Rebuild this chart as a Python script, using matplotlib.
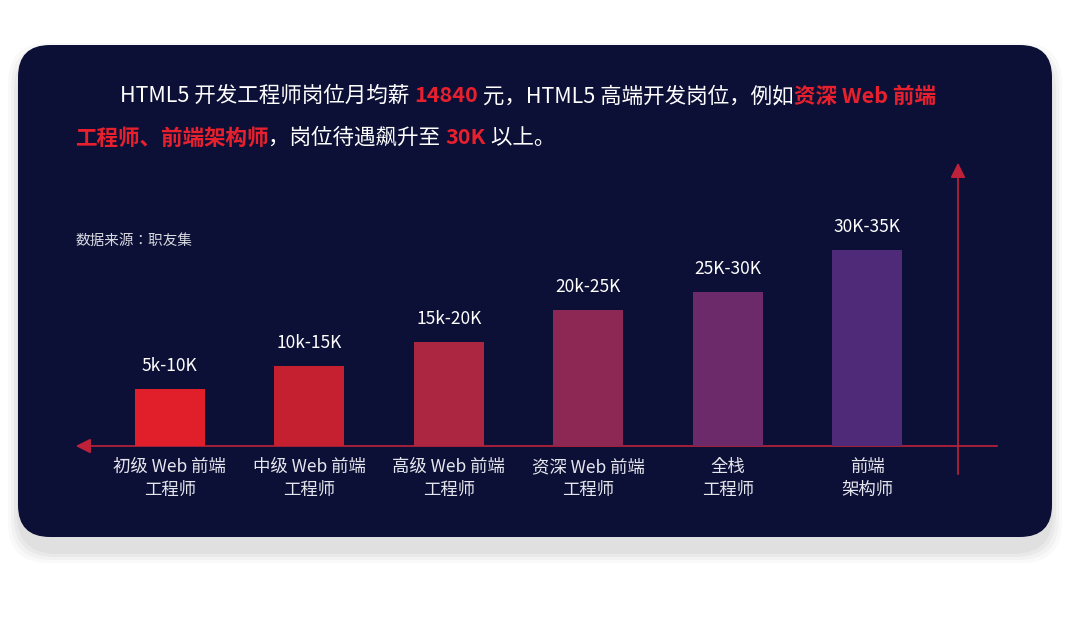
import matplotlib
matplotlib.use("Agg")
import matplotlib.pyplot as plt
from matplotlib import font_manager as fm
from matplotlib.patches import FancyBboxPatch, FancyArrowPatch

cjk = [f.name for f in fm.fontManager.ttflist if "CJK" in f.name]
fams = []
for n in ["Noto Sans CJK SC", "Noto Sans CJK JP", "Noto Sans CJK TC", "Noto Sans CJK KR"] + cjk:
    if n in cjk and n not in fams:
        fams.append(n)
if not fams:
    for p in fm.findSystemFonts():
        if "CJK" in p or "cjk" in p.lower():
            fm.fontManager.addfont(p)
    fams = sorted({f.name for f in fm.fontManager.ttflist if "CJK" in f.name})
plt.rcParams["font.family"] = ["sans-serif"]
plt.rcParams["font.sans-serif"] = fams + ["DejaVu Sans"]

categories = ["初级 Web 前端\n工程师", "中级 Web 前端\n工程师", "高级 Web 前端\n工程师",
              "资深 Web 前端\n工程师", "全栈\n工程师", "前端\n架构师"]
value_labels = ["5k-10K", "10k-15K", "15k-20K", "20k-25K", "25K-30K", "30K-35K"]
values = [57, 80, 104, 136, 154, 196]   # relative bar heights
colors = ["#e01f2a", "#c5202f", "#ac2541", "#8c2853", "#6c2a6b", "#4f2a79"]

W, H = 1080, 619
fig = plt.figure(figsize=(W / 100, H / 100), dpi=100)
fig.patch.set_facecolor("white")
bg = fig.add_axes([0, 0, 1, 1])
bg.set_xlim(0, W); bg.set_ylim(H, 0); bg.axis("off")

for i, a in enumerate([0.03, 0.04, 0.05, 0.06]):
    g = 14 - i * 3
    bg.add_patch(FancyBboxPatch((18 - g + 4, 45 - g + 12), 1034 + 2 * g - 8, 492 + 2 * g,
                                boxstyle="round,pad=0,rounding_size=40",
                                fc="#555555", ec="none", alpha=a))
bg.add_patch(FancyBboxPatch((18, 45), 1034, 492, boxstyle="round,pad=0,rounding_size=32",
                            fc="#0c1036", ec="none"))

bg.add_patch(FancyArrowPatch((1000, 446), (73, 446), arrowstyle="-|>,head_length=6,head_width=3",
                             color="#c0213a", lw=1.2, mutation_scale=1.5))
bg.add_patch(FancyArrowPatch((958, 477), (958, 160), arrowstyle="-|>,head_length=6,head_width=3",
                             color="#c0213a", lw=1.2, mutation_scale=1.5))

fig.canvas.draw()
r = fig.canvas.get_renderer()
RED = "#e8202e"
def line(parts, x, y):
    for txt, red in parts:
        t = bg.text(x, y, txt, color=RED if red else "white", fontsize=15.5,
                    fontweight="bold" if red else "normal", va="center", ha="left")
        bb = t.get_window_extent(renderer=r)
        x += bb.width
line([("HTML5 开发工程师岗位月均薪 ", False), ("14840", True),
      (" 元，HTML5 高端开发岗位，例如", False), ("资深 Web 前端", True)], 120, 96)
line([("工程师、前端架构师", True), ("，岗位待遇飙升至 ", False), ("30K", True),
      (" 以上。", False)], 75, 138)

bg.text(75, 241, "数据来源：职友集", color="#d8d8e0", fontsize=10.5, va="center")

ax = fig.add_axes([100 / W, (H - 446) / H, 837 / W, 300 / H])
ax.set_xlim(-0.5, 5.5); ax.set_ylim(0, 300); ax.axis("off")
xs = range(len(values))
ax.bar(xs, values, width=0.5, color=colors)
for x, v, lab in zip(xs, values, value_labels):
    ax.text(x, v + 14, lab, color="white", fontsize=12.5, ha="center", va="bottom")
for x, c in zip(xs, categories):
    ax.text(x, -12, c, color="#e6e6ee", fontsize=12.5, ha="center", va="top", linespacing=1.35)

fig.savefig("out.png", dpi=100, facecolor="white")
